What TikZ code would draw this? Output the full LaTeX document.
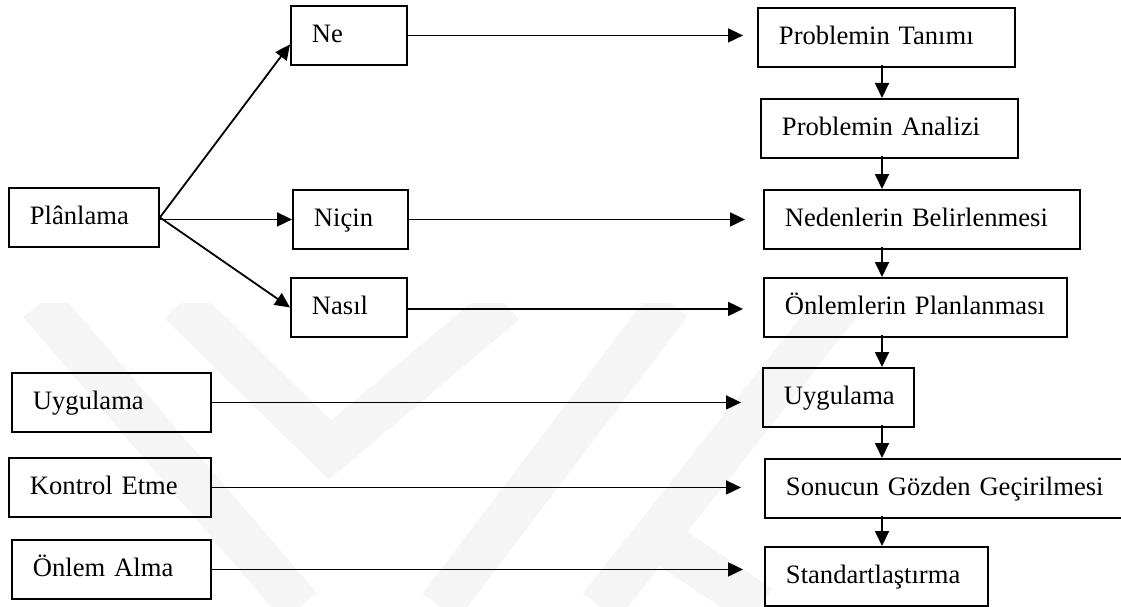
\documentclass[tikz,border=0pt]{standalone}
\usepackage{fontspec}
\setmainfont{Liberation Serif}
\usetikzlibrary{arrows.meta,calc}
\begin{document}
\begin{tikzpicture}[x=1pt,y=-1pt,
  bx/.style={draw, line width=1.9pt, rectangle, anchor=north west,
    inner xsep=0pt, inner ysep=0pt, align=left,
    text height=37pt, text depth=22pt,
    font=\fontsize{26.6}{32}\selectfont,
    execute at begin node={\noindent\hspace*{21pt}}},
  arr/.style={line width=1.8pt, -{Triangle[length=15pt,width=14pt]}},
  wmband/.style={line width=44pt, black!4, line cap=butt, line join=miter}]

\useasboundingbox (0,0) rectangle (1121,607);
\clip (0,0) rectangle (1121,607);

% faint background emblem
\begin{scope}
  \clip (0,303) rectangle (1121,607);
  \draw[wmband] (40,303) -- (300,607);
  \draw[wmband] (180,303) -- (330,450) -- (505,303);
  \draw[wmband] (440,607) -- (670,303);
  \draw[wmband] (600,607) -- (840,303);
  \draw[wmband] (660,540) -- (760,607);
\end{scope}

% left column
\node[bx, text width=150pt] (pl) at (8,187)   {Plânlama};
\node[bx, text width=199pt] (uy) at (11,372)  {Uygulama};
\node[bx, text width=202pt] (ke) at (8,457)   {Kontrol Etme};
\node[bx, text width=199pt] (oa) at (11,539)  {Önlem Alma};

% question boxes
\node[bx, text width=116pt] (ne) at (290,5)   {Ne};
\node[bx, text width=115pt] (ni) at (292,189) {Niçin};
\node[bx, text width=116pt] (na) at (290,277) {Nasıl};

% process chain
\node[bx, text width=257pt] (pt) at (757,7)   {Problemin Tanımı};
\node[bx, text width=257pt] (pa) at (760,98)  {Problemin Analizi};
\node[bx, text width=316pt] (nb) at (763,189) {Nedenlerin Belirlenmesi};
\node[bx, text width=303pt] (op) at (763,277) {Önlemlerin Planlanması};
\node[bx, text width=151pt] (ur) at (762,367) {Uygulama};
\node[bx, text width=372pt] (sg) at (764,458) {Sonucun Gözden Geçirilmesi};
\node[bx, text width=223pt] (st) at (764,546) {Standartlaştırma};

\coordinate (col) at (882,0);

% planning branches
\draw[arr] (pl.east) -- ([yshift=-9pt]ne.west);
\draw[arr] (pl.east |- ni.west) -- (ni.west);
\draw[arr] (pl.east) -- (na.west);

% links to the chain
\draw[arr] (ne.east) -- ([xshift=-14pt]ne.east -| pt.west);
\draw[arr] (ni.east) -- ([xshift=-18pt]ni.east -| nb.west);
\draw[arr] ([yshift=-1.5pt]na.east) -- ([xshift=-20pt,yshift=-1.5pt]na.east -| op.west);
\draw[arr] (uy.east) -- ([xshift=-21pt]uy.east -| ur.west);
\draw[arr] (ke.east) -- ([xshift=-23pt]ke.east -| sg.west);
\draw[arr] (oa.east) -- ([xshift=-21pt]oa.east -| st.west);

% chain steps
\draw[arr] ([yshift=3pt]pt.south -| col) -- (pa.north -| col);
\draw[arr] ([yshift=3pt]pa.south -| col) -- (nb.north -| col);
\draw[arr] ([yshift=3pt]nb.south -| col) -- (op.north -| col);
\draw[arr] ([yshift=3pt]op.south -| col) -- (ur.north -| col);
\draw[arr] ([yshift=3pt]ur.south -| col) -- (sg.north -| col);
\draw[arr] ([yshift=3pt]sg.south -| col) -- (st.north -| col);
\end{tikzpicture}
\end{document}
